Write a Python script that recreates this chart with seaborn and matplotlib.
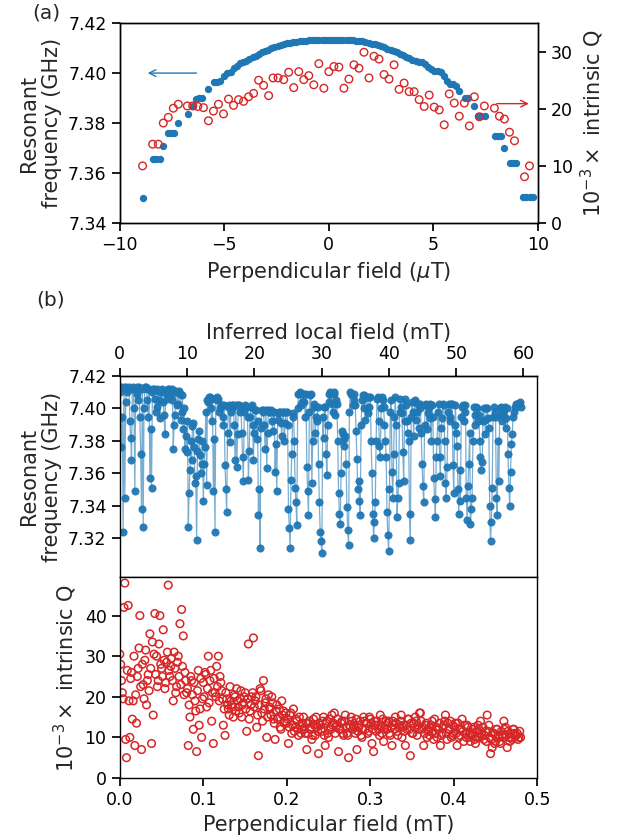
import numpy as np
import pandas as pd
import matplotlib
matplotlib.use('Agg')
import matplotlib.pyplot as plt
import seaborn as sns

# ---- panel (a): sweep around zero field ----
a_blue_field = [-8.9, -8.4, -8.25, -8.1, -7.92, -7.68, -7.55, -7.4, -7.2, -6.72,
                -6.5, -6.35, -6.2, -6.05, -5.76, -5.5, -5.35, -5.2, -5.0, -4.88,
                -4.7, -4.56, -4.4, -4.24, -4.1, -3.95, -3.8, -3.65, -3.5, -3.35,
                -3.2, -3.05, -2.9, -2.75, -2.6, -2.45, -2.3, -2.15, -2.0, -1.85,
                -1.7, -1.55, -1.4, -1.25, -1.1, -0.95, -0.8, -0.65, -0.5, -0.35,
                -0.2, -0.05, 0.1, 0.25, 0.4, 0.55, 0.7, 0.85, 1.0, 1.15,
                1.3, 1.45, 1.6, 1.75, 1.9, 2.05, 2.2, 2.35, 2.5, 2.65,
                2.8, 2.95, 3.1, 3.25, 3.4, 3.55, 3.7, 3.85, 4.0, 4.15,
                4.3, 4.45, 4.6, 4.75, 4.9, 5.05, 5.2, 5.35, 5.5, 5.65,
                5.8, 5.95, 6.1, 6.25, 6.5, 6.65, 6.95, 7.15, 7.3, 7.45,
                7.95, 8.1, 8.25, 8.4, 8.65, 8.8, 8.95, 9.3, 9.45, 9.6,
                9.75]
a_blue_freq = [7.3500, 7.3656, 7.3656, 7.3656, 7.3710, 7.3760, 7.3760, 7.3760, 7.3800, 7.3837,
               7.3870, 7.3895, 7.3900, 7.3900, 7.3937, 7.3964, 7.3964, 7.3970, 7.3990, 7.4000,
               7.4005, 7.4020, 7.4030, 7.4040, 7.4044, 7.4050, 7.4058, 7.4065, 7.4070, 7.4077,
               7.4083, 7.4090, 7.4094, 7.4100, 7.4105, 7.4110, 7.4113, 7.4117, 7.4120, 7.4122,
               7.4124, 7.4126, 7.4128, 7.4130, 7.4130, 7.4131, 7.4132, 7.4132, 7.4133, 7.4133,
               7.4133, 7.4134, 7.4134, 7.4134, 7.4134, 7.4133, 7.4133, 7.4133, 7.4132, 7.4131,
               7.4130, 7.4130, 7.4128, 7.4125, 7.4121, 7.4118, 7.4115, 7.4111, 7.4107, 7.4103,
               7.4098, 7.4093, 7.4088, 7.4083, 7.4078, 7.4072, 7.4066, 7.4060, 7.4054, 7.4048,
               7.4044, 7.4044, 7.4036, 7.4026, 7.4015, 7.4010, 7.4010, 7.4005, 7.3990, 7.3970,
               7.3955, 7.3955, 7.3950, 7.3930, 7.3900, 7.3900, 7.3867, 7.3830, 7.3830, 7.3830,
               7.3747, 7.3747, 7.3747, 7.3700, 7.3641, 7.3641, 7.3641, 7.3504, 7.3504, 7.3504,
               7.3504]

a_red_field = [-8.91, -8.43, -8.16, -7.92, -7.68, -7.44, -7.2, -6.77, -6.51, -6.27,
               -6.0, -5.76, -5.52, -5.28, -5.04, -4.8, -4.56, -4.32, -4.08, -3.84,
               -3.6, -3.36, -3.12, -2.88, -2.67, -2.43, -2.16, -1.92, -1.68, -1.44,
               -1.2, -0.96, -0.72, -0.48, -0.24, 0.0, 0.24, 0.48, 0.72, 0.96,
               1.2, 1.44, 1.68, 1.92, 2.16, 2.4, 2.64, 2.88, 3.12, 3.36,
               3.6, 3.84, 4.08, 4.32, 4.56, 4.8, 5.04, 5.28, 5.52, 5.76,
               6.0, 6.24, 6.48, 6.72, 6.96, 7.2, 7.44, 7.92, 8.16, 8.4,
               8.64, 8.88, 9.36, 9.6]
a_red_q = [10.0, 13.8, 13.8, 17.5, 18.5, 20.1, 20.8, 20.5, 20.5, 20.4,
           20.2, 17.9, 19.6, 20.8, 19.1, 21.7, 20.6, 21.6, 21.3, 22.1,
           22.7, 25.0, 24.1, 22.3, 25.4, 25.4, 25.1, 26.4, 23.7, 26.5,
           25.1, 25.8, 24.2, 27.9, 23.6, 26.5, 27.4, 27.3, 23.6, 25.2,
           27.7, 27.1, 29.9, 25.4, 29.2, 28.7, 26.0, 25.2, 27.7, 23.4,
           24.5, 23.0, 23.0, 21.6, 20.4, 22.4, 20.3, 19.8, 17.2, 22.6,
           21.0, 18.7, 21.0, 17.0, 22.1, 18.6, 20.5, 20.1, 18.7, 18.2,
           15.9, 14.4, 8.1, 10.0]

# ---- panel (b): long sweep, perpendicular field in mT ----
# readings taken on the even steps of the sweep
b_field = [0.000, 0.002, 0.004, 0.006, 0.008, 0.010, 0.012, 0.014, 0.016, 0.018,
           0.020, 0.022, 0.024, 0.026, 0.028, 0.030, 0.032, 0.034, 0.036, 0.038,
           0.040, 0.042, 0.044, 0.046, 0.048, 0.050, 0.052, 0.054, 0.056, 0.058,
           0.060, 0.062, 0.064, 0.066, 0.068, 0.070, 0.072, 0.074, 0.076, 0.078,
           0.080, 0.082, 0.084, 0.086, 0.088, 0.090, 0.092, 0.094, 0.096, 0.098,
           0.100, 0.102, 0.104, 0.106, 0.108, 0.110, 0.112, 0.114, 0.116, 0.118,
           0.120, 0.122, 0.124, 0.126, 0.128, 0.130, 0.132, 0.134, 0.136, 0.138,
           0.140, 0.142, 0.144, 0.146, 0.148, 0.150, 0.152, 0.154, 0.156, 0.158,
           0.160, 0.162, 0.164, 0.166, 0.168, 0.170, 0.172, 0.174, 0.176, 0.178,
           0.180, 0.182, 0.184, 0.186, 0.188, 0.190, 0.192, 0.194, 0.196, 0.198,
           0.200, 0.202, 0.204, 0.206, 0.208, 0.210, 0.212, 0.214, 0.216, 0.218,
           0.220, 0.222, 0.224, 0.226, 0.228, 0.230, 0.232, 0.234, 0.236, 0.238,
           0.240, 0.242, 0.244, 0.246, 0.248, 0.250, 0.252, 0.254, 0.256, 0.258,
           0.260, 0.262, 0.264, 0.266, 0.268, 0.270, 0.272, 0.274, 0.276, 0.278,
           0.280, 0.282, 0.284, 0.286, 0.288, 0.290, 0.292, 0.294, 0.296, 0.298,
           0.300, 0.302, 0.304, 0.306, 0.308, 0.310, 0.312, 0.314, 0.316, 0.318,
           0.320, 0.322, 0.324, 0.326, 0.328, 0.330, 0.332, 0.334, 0.336, 0.338,
           0.340, 0.342, 0.344, 0.346, 0.348, 0.350, 0.352, 0.354, 0.356, 0.358,
           0.360, 0.362, 0.364, 0.366, 0.368, 0.370, 0.372, 0.374, 0.376, 0.378,
           0.380, 0.382, 0.384, 0.386, 0.388, 0.390, 0.392, 0.394, 0.396, 0.398,
           0.400, 0.402, 0.404, 0.406, 0.408, 0.410, 0.412, 0.414, 0.416, 0.418,
           0.420, 0.422, 0.424, 0.426, 0.428, 0.430, 0.432, 0.434, 0.436, 0.438,
           0.440, 0.442, 0.444, 0.446, 0.448, 0.450, 0.452, 0.454, 0.456, 0.458,
           0.460, 0.462, 0.464, 0.466, 0.468, 0.470, 0.472, 0.474, 0.476, 0.478,
           0.480]
b_freq = [7.410, 7.376, 7.324, 7.345, 7.413, 7.412, 7.392, 7.368, 7.413, 7.349,
          7.413, 7.405, 7.395, 7.338, 7.327, 7.413, 7.412, 7.395, 7.357, 7.351,
          7.412, 7.406, 7.401, 7.411, 7.394, 7.410, 7.404, 7.384, 7.409, 7.412,
          7.411, 7.405, 7.375, 7.396, 7.410, 7.403, 7.409, 7.398, 7.387, 7.375,
          7.373, 7.327, 7.362, 7.368, 7.391, 7.354, 7.319, 7.381, 7.371, 7.366,
          7.343, 7.376, 7.353, 7.404, 7.407, 7.392, 7.349, 7.324, 7.405, 7.406,
          7.400, 7.402, 7.390, 7.365, 7.336, 7.401, 7.379, 7.402, 7.401, 7.368,
          7.364, 7.402, 7.398, 7.385, 7.355, 7.402, 7.401, 7.356, 7.395, 7.402,
          7.368, 7.399, 7.381, 7.334, 7.314, 7.399, 7.398, 7.375, 7.363, 7.399,
          7.398, 7.392, 7.398, 7.361, 7.349, 7.397, 7.398, 7.383, 7.398, 7.391,
          7.398, 7.338, 7.314, 7.372, 7.397, 7.351, 7.328, 7.409, 7.410, 7.404,
          7.409, 7.395, 7.364, 7.334, 7.408, 7.354, 7.403, 7.385, 7.392, 7.366,
          7.324, 7.311, 7.382, 7.401, 7.359, 7.409, 7.410, 7.403, 7.409, 7.396,
          7.403, 7.348, 7.329, 7.386, 7.377, 7.383, 7.339, 7.316, 7.410, 7.408,
          7.409, 7.402, 7.369, 7.355, 7.334, 7.405, 7.408, 7.393, 7.407, 7.401,
          7.407, 7.360, 7.320, 7.342, 7.406, 7.392, 7.370, 7.407, 7.401, 7.380,
          7.336, 7.312, 7.398, 7.361, 7.372, 7.407, 7.333, 7.354, 7.406, 7.397,
          7.355, 7.406, 7.392, 7.380, 7.319, 7.404, 7.383, 7.405, 7.398, 7.388,
          7.403, 7.366, 7.342, 7.402, 7.387, 7.401, 7.394, 7.402, 7.357, 7.333,
          7.380, 7.403, 7.358, 7.394, 7.402, 7.354, 7.364, 7.403, 7.395, 7.403,
          7.348, 7.402, 7.377, 7.335, 7.343, 7.401, 7.392, 7.402, 7.331, 7.366,
          7.329, 7.345, 7.401, 7.390, 7.400, 7.396, 7.370, 7.367, 7.400, 7.384,
          7.400, 7.388, 7.318, 7.351, 7.401, 7.395, 7.334, 7.355, 7.401, 7.392,
          7.399, 7.388, 7.400, 7.351, 7.361, 7.384, 7.398, 7.401, 7.403, 7.403,
          7.401]
b_q = [30.5, 24.0, 19.5, 48.0, 5.0, 42.5, 10.0, 26.0, 19.0, 8.0,
       13.5, 27.0, 40.0, 7.0, 23.0, 29.0, 18.0, 25.5, 35.5, 8.5,
       15.5, 40.5, 30.0, 24.0, 40.0, 27.0, 36.5, 22.0, 28.5, 47.5,
       25.0, 29.5, 19.0, 27.0, 22.5, 30.0, 38.0, 41.5, 35.0, 26.0,
       21.0, 8.0, 15.0, 24.0, 12.0, 19.0, 6.5, 26.5, 17.0, 10.0,
       23.5, 26.0, 17.5, 30.0, 24.0, 14.0, 8.5, 21.0, 27.5, 30.0,
       25.0, 21.5, 13.0, 10.5, 19.5, 17.0, 22.5, 18.0, 15.0, 20.0,
       22.0, 17.5, 19.5, 15.0, 18.5, 21.0, 11.5, 33.0, 16.5, 20.0,
       34.5, 19.0, 12.5, 5.5, 22.0, 16.0, 24.0, 18.5, 10.0, 20.5,
       17.0, 20.0, 14.5, 9.5, 18.0, 15.0, 12.5, 19.0, 16.5, 14.0,
       13.5, 8.5, 15.5, 11.0, 17.0, 12.5, 14.0, 10.5, 13.0, 12.0,
       15.0, 11.0, 7.0, 13.5, 12.0, 9.5, 14.5, 10.5, 12.5, 6.0,
       13.0, 11.5, 15.0, 8.0, 14.0, 10.0, 12.5, 15.5, 13.5, 11.0,
       13.0, 6.5, 12.0, 14.0, 10.5, 15.5, 11.0, 5.0, 12.5, 14.0,
       13.0, 11.0, 7.0, 12.5, 14.0, 10.0, 15.0, 12.0, 13.5, 11.5,
       14.5, 8.5, 6.5, 13.0, 14.0, 12.0, 15.5, 11.0, 9.0, 13.0,
       12.0, 14.0, 10.5, 8.0, 13.0, 15.0, 11.5, 12.5, 14.0, 10.0,
       13.0, 8.0, 12.0, 14.5, 5.5, 11.0, 13.5, 15.0, 10.5, 12.0,
       16.0, 12.0, 8.0, 13.0, 10.0, 11.5, 12.5, 14.0, 9.5, 11.0,
       10.0, 12.0, 8.0, 11.0, 13.0, 15.5, 9.5, 12.0, 14.0, 10.5,
       11.0, 13.5, 8.0, 10.0, 12.0, 14.5, 9.0, 11.0, 13.0, 10.0,
       9.0, 11.0, 12.5, 8.5, 10.0, 12.0, 14.0, 10.5, 9.5, 11.5,
       15.5, 13.0, 6.0, 7.5, 11.0, 9.0, 12.0, 10.0, 8.5, 10.5,
       14.0, 12.5, 7.5, 10.0, 11.0, 9.5, 12.0, 10.5, 11.0, 10.0,
       10.0]

# readings taken on the odd steps of the sweep
b_field_odd = [0.001, 0.003, 0.005, 0.007, 0.009, 0.011, 0.013, 0.015, 0.017, 0.019,
               0.021, 0.023, 0.025, 0.027, 0.029, 0.031, 0.033, 0.035, 0.037, 0.039,
               0.041, 0.043, 0.045, 0.047, 0.049, 0.051, 0.053, 0.055, 0.057, 0.059,
               0.061, 0.063, 0.065, 0.067, 0.069, 0.071, 0.073, 0.075, 0.077, 0.079,
               0.081, 0.083, 0.085, 0.087, 0.089, 0.091, 0.093, 0.095, 0.097, 0.099,
               0.101, 0.103, 0.105, 0.107, 0.109, 0.111, 0.113, 0.115, 0.117, 0.119,
               0.121, 0.123, 0.125, 0.127, 0.129, 0.131, 0.133, 0.135, 0.137, 0.139,
               0.141, 0.143, 0.145, 0.147, 0.149, 0.151, 0.153, 0.155, 0.157, 0.159,
               0.161, 0.163, 0.165, 0.167, 0.169, 0.171, 0.173, 0.175, 0.177, 0.179,
               0.181, 0.183, 0.185, 0.187, 0.189, 0.191, 0.193, 0.195, 0.197, 0.199,
               0.201, 0.203, 0.205, 0.207, 0.209, 0.211, 0.213, 0.215, 0.217, 0.219,
               0.221, 0.223, 0.225, 0.227, 0.229, 0.231, 0.233, 0.235, 0.237, 0.239,
               0.241, 0.243, 0.245, 0.247, 0.249, 0.251, 0.253, 0.255, 0.257, 0.259,
               0.261, 0.263, 0.265, 0.267, 0.269, 0.271, 0.273, 0.275, 0.277, 0.279,
               0.281, 0.283, 0.285, 0.287, 0.289, 0.291, 0.293, 0.295, 0.297, 0.299,
               0.301, 0.303, 0.305, 0.307, 0.309, 0.311, 0.313, 0.315, 0.317, 0.319,
               0.321, 0.323, 0.325, 0.327, 0.329, 0.331, 0.333, 0.335, 0.337, 0.339,
               0.341, 0.343, 0.345, 0.347, 0.349, 0.351, 0.353, 0.355, 0.357, 0.359,
               0.361, 0.363, 0.365, 0.367, 0.369, 0.371, 0.373, 0.375, 0.377, 0.379,
               0.381, 0.383, 0.385, 0.387, 0.389, 0.391, 0.393, 0.395, 0.397, 0.399,
               0.401, 0.403, 0.405, 0.407, 0.409, 0.411, 0.413, 0.415, 0.417, 0.419,
               0.421, 0.423, 0.425, 0.427, 0.429, 0.431, 0.433, 0.435, 0.437, 0.439,
               0.441, 0.443, 0.445, 0.447, 0.449, 0.451, 0.453, 0.455, 0.457, 0.459,
               0.461, 0.463, 0.465, 0.467, 0.469, 0.471, 0.473, 0.475, 0.477, 0.479]
b_freq_odd = [7.413, 7.395, 7.413, 7.404, 7.410, 7.413, 7.382, 7.412, 7.400, 7.412,
              7.409, 7.413, 7.372, 7.412, 7.400, 7.413, 7.405, 7.412, 7.387, 7.410,
              7.412, 7.398, 7.412, 7.405, 7.410, 7.412, 7.396, 7.411, 7.406, 7.412,
              7.408, 7.412, 7.390, 7.411, 7.402, 7.411, 7.393, 7.408, 7.400, 7.383,
              7.392, 7.348, 7.380, 7.389, 7.376, 7.358, 7.374, 7.386, 7.360, 7.380,
              7.366, 7.398, 7.405, 7.407, 7.400, 7.406, 7.381, 7.406, 7.407, 7.398,
              7.402, 7.395, 7.402, 7.350, 7.385, 7.402, 7.398, 7.402, 7.390, 7.402,
              7.384, 7.402, 7.401, 7.370, 7.398, 7.401, 7.395, 7.374, 7.401, 7.390,
              7.385, 7.399, 7.392, 7.350, 7.388, 7.399, 7.390, 7.399, 7.385, 7.398,
              7.399, 7.386, 7.398, 7.378, 7.393, 7.398, 7.391, 7.398, 7.380, 7.398,
              7.390, 7.326, 7.356, 7.395, 7.380, 7.342, 7.400, 7.409, 7.402, 7.409,
              7.404, 7.409, 7.349, 7.398, 7.409, 7.380, 7.401, 7.395, 7.401, 7.342,
              7.318, 7.395, 7.401, 7.372, 7.390, 7.404, 7.409, 7.398, 7.410, 7.405,
              7.380, 7.335, 7.360, 7.384, 7.381, 7.366, 7.325, 7.398, 7.409, 7.402,
              7.405, 7.386, 7.350, 7.343, 7.390, 7.408, 7.400, 7.407, 7.397, 7.407,
              7.380, 7.335, 7.330, 7.380, 7.407, 7.377, 7.400, 7.405, 7.390, 7.370,
              7.322, 7.350, 7.405, 7.345, 7.395, 7.390, 7.345, 7.398, 7.401, 7.373,
              7.392, 7.402, 7.385, 7.335, 7.395, 7.398, 7.404, 7.393, 7.403, 7.400,
              7.385, 7.352, 7.390, 7.403, 7.397, 7.403, 7.380, 7.395, 7.344, 7.370,
              7.398, 7.370, 7.388, 7.403, 7.380, 7.345, 7.398, 7.392, 7.403, 7.365,
              7.390, 7.385, 7.350, 7.362, 7.395, 7.402, 7.398, 7.345, 7.352, 7.385,
              7.338, 7.380, 7.396, 7.401, 7.392, 7.380, 7.362, 7.392, 7.393, 7.400,
              7.394, 7.340, 7.330, 7.395, 7.398, 7.345, 7.380, 7.396, 7.400, 7.396,
              7.401, 7.394, 7.372, 7.340, 7.378, 7.395, 7.401, 7.403, 7.402, 7.404]
b_q_odd = [28.0, 21.0, 42.0, 9.5, 26.5, 19.0, 24.5, 14.5, 30.0, 20.5,
           25.0, 32.0, 22.5, 28.0, 19.5, 31.5, 24.0, 21.5, 27.0, 33.5,
           30.5, 25.5, 22.5, 33.0, 28.0, 25.0, 29.0, 23.5, 31.0, 26.5,
           27.5, 24.0, 31.0, 21.0, 28.5, 25.0, 23.0, 27.5, 20.5, 24.0,
           22.0, 18.0, 25.0, 20.5, 23.5, 16.5, 21.5, 13.0, 24.5, 19.5,
           20.0, 25.5, 22.0, 18.5, 26.5, 21.0, 24.5, 20.0, 22.5, 19.0,
           23.5, 19.5, 17.0, 21.0, 18.0, 15.5, 19.0, 17.5, 20.5, 16.5,
           19.0, 16.0, 21.5, 18.0, 20.0, 17.0, 19.5, 14.5, 18.0, 21.0,
           17.5, 20.0, 15.5, 18.0, 21.5, 14.0, 17.0, 19.5, 15.0, 17.5,
           15.5, 18.5, 13.5, 16.5, 14.5, 17.0, 12.0, 15.5, 13.5, 16.0,
           14.5, 12.5, 16.0, 13.0, 11.5, 14.5, 12.0, 15.0, 11.0, 13.5,
           12.0, 13.5, 11.0, 14.0, 12.5, 10.5, 13.0, 15.0, 11.5, 13.5,
           12.0, 14.0, 10.5, 13.5, 11.0, 14.5, 12.0, 13.0, 16.0, 12.5,
           14.5, 12.0, 13.5, 11.0, 14.0, 12.5, 10.5, 13.0, 15.0, 12.0,
           12.5, 14.5, 11.5, 13.0, 10.5, 12.0, 14.0, 13.5, 11.0, 15.0,
           13.5, 12.0, 14.0, 11.5, 13.0, 10.5, 12.5, 14.5, 12.0, 14.0,
           13.5, 11.0, 12.5, 14.0, 12.0, 13.5, 10.5, 13.0, 15.5, 12.5,
           11.5, 13.0, 14.5, 12.0, 13.5, 11.0, 12.5, 14.0, 13.0, 16.0,
           14.0, 12.5, 11.0, 13.5, 12.0, 10.5, 13.0, 11.5, 14.5, 12.5,
           12.0, 13.5, 10.5, 12.5, 14.0, 11.0, 13.5, 12.0, 10.0, 13.0,
           12.5, 11.0, 13.5, 10.5, 12.0, 11.5, 13.0, 10.0, 12.5, 11.0,
           10.5, 12.0, 9.5, 11.5, 13.0, 10.0, 11.0, 12.5, 10.5, 9.0,
           11.5, 10.0, 9.5, 11.0, 8.5, 12.0, 10.5, 9.0, 11.5, 10.0,
           12.0, 10.5, 11.5, 9.0, 10.0, 12.0, 11.0, 10.5, 9.5, 11.5]

# local field inferred from perpendicular field (mT per mT)
local_per_perp = 124.1

sweep = pd.concat([
    pd.DataFrame({'field': b_field, 'freq': b_freq, 'q': b_q}),
    pd.DataFrame({'field': b_field_odd, 'freq': b_freq_odd, 'q': b_q_odd}),
]).sort_values('field').reset_index(drop=True)

blue = '#1f77b4'
red = '#d62728'

sns.set_theme(style='ticks')
plt.rcParams['font.family'] = ['DejaVu Sans']
plt.rcParams['mathtext.fontset'] = 'dejavusans'
plt.rcParams['xtick.labelsize'] = 12.5
plt.rcParams['ytick.labelsize'] = 12.5
plt.rcParams['axes.labelsize'] = 15
plt.rcParams['axes.linewidth'] = 1.0
plt.rcParams['axes.edgecolor'] = 'black'
plt.rcParams['xtick.color'] = 'black'
plt.rcParams['ytick.color'] = 'black'

fig = plt.figure(figsize=(6.24, 8.4), dpi=100)

# (a)
ax_a = fig.add_axes([0.192, 0.7345, 0.670, 0.238])
ax_q = ax_a.twinx()
sns.scatterplot(x=a_blue_field, y=a_blue_freq, ax=ax_a, color=blue, s=28, linewidth=0)
sns.scatterplot(x=a_red_field, y=a_red_q, ax=ax_q, marker='o', s=30,
                facecolors='none', edgecolor=red, linewidth=1.0)
ax_a.set_xlim(-10, 10)
ax_a.set_ylim(7.34, 7.42)
ax_a.set_yticks([7.34, 7.36, 7.38, 7.40, 7.42])
ax_a.set_xticks([-10, -5, 0, 5, 10])
ax_q.set_ylim(0, 35)
ax_q.set_yticks([0, 10, 20, 30])
ax_a.set_xlabel(r'Perpendicular field ($\mu$T)')
ax_a.set_ylabel('Resonant\nfrequency (GHz)')
ax_q.set_ylabel(r'$10^{-3}\times$ intrinsic Q')
ax_a.annotate('', xy=(-8.8, 7.40), xytext=(-6.2, 7.40),
              arrowprops=dict(arrowstyle='->', color=blue, lw=1.0))
ax_q.annotate('', xy=(9.7, 20.9), xytext=(7.9, 20.9),
              arrowprops=dict(arrowstyle='->', color=red, lw=1.0))
fig.text(0.052, 0.985, '(a)', fontsize=14.5, va='center', ha='left')

# (b) top: frequency
ax_f = fig.add_axes([0.192, 0.3131, 0.669, 0.2393])
ax_g = fig.add_axes([0.192, 0.0738, 0.669, 0.2393], sharex=ax_f)
sns.lineplot(data=sweep, x='field', y='freq', ax=ax_f, color=blue, lw=0.9, alpha=0.6,
             sort=False, estimator=None)
sns.scatterplot(data=sweep, x='field', y='freq', ax=ax_f, color=blue, s=34, linewidth=0,
                alpha=0.95)
ax_f.set_ylim(7.296, 7.42)
ax_f.set_yticks([7.32, 7.34, 7.36, 7.38, 7.40, 7.42])
ax_f.set_ylabel('Resonant\nfrequency (GHz)')
ax_f.set_xlabel('')
ax_f.tick_params(axis='x', bottom=False, labelbottom=False)
top = ax_f.secondary_xaxis('top', functions=(lambda v: v * local_per_perp,
                                             lambda v: v / local_per_perp))
top.set_xticks([0, 10, 20, 30, 40, 50, 60])
top.set_xlabel('Inferred local field (mT)')

# (b) bottom: Q
sns.scatterplot(data=sweep, x='field', y='q', ax=ax_g, marker='o', s=30,
                facecolors='none', edgecolor=red, linewidth=1.1)
ax_g.set_xlim(0, 0.5)
ax_g.set_ylim(0, 49.5)
ax_g.set_yticks([0, 10, 20, 30, 40])
ax_g.set_xticks([0.0, 0.1, 0.2, 0.3, 0.4, 0.5])
ax_g.set_xlabel('Perpendicular field (mT)')
ax_g.set_ylabel(r'$10^{-3}\times$ intrinsic Q')
fig.text(0.058, 0.643, '(b)', fontsize=14.5, va='center', ha='left')

fig.savefig('out.png', dpi=100)
